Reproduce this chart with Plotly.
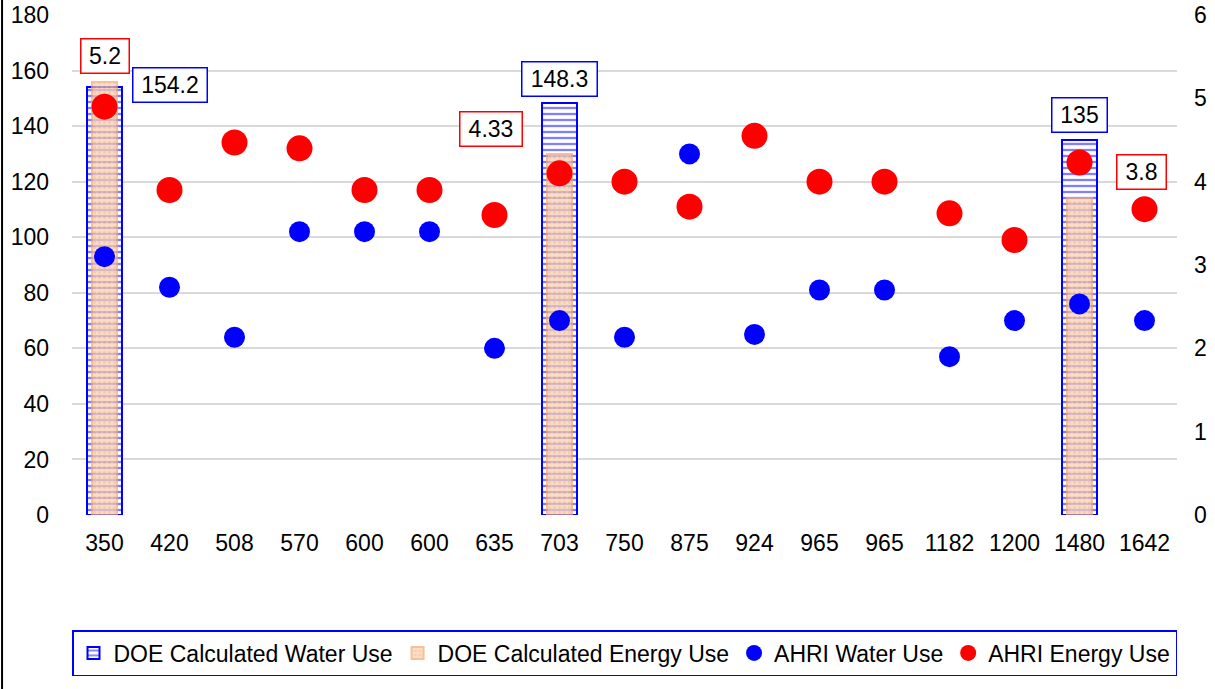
import plotly.graph_objects as go

categories = ["350", "420", "508", "570", "600", "600", "635", "703", "750",
              "875", "924", "965", "965", "1182", "1200", "1480", "1642"]
doe_water = [154.2, None, None, None, None, None, None, 148.3, None,
             None, None, None, None, None, None, 135, None]
doe_energy = [5.2, None, None, None, None, None, None, 4.33, None,
              None, None, None, None, None, None, 3.8, None]
ahri_water = [93, 82, 64, 102, 102, 102, 60, 70, 64,
              130, 65, 81, 81, 57, 70, 76, 70]
ahri_energy = [4.9, 3.9, 4.47, 4.4, 3.9, 3.9, 3.6, 4.1, 4.0,
               3.7, 4.55, 4.0, 4.0, 3.62, 3.3, 4.23, 3.67]

x = list(range(len(categories)))
FONT = "Liberation Sans, Arial, sans-serif"
FS = 23

fig = go.Figure()
fig.add_trace(go.Bar(
    x=x, y=doe_water, name="DOE Calculated Water Use", width=0.53,
    marker=dict(color="white", line=dict(color="#0000ff", width=2),
                pattern=dict(shape="-", fgcolor="#0000ff", bgcolor="white",
                             size=6, solidity=0.38)),
    yaxis="y"))
fig.add_trace(go.Bar(
    x=x, y=doe_energy, name="DOE Calculated Energy Use", width=0.37,
    opacity=0.72,
    marker=dict(color="#f8cbad", line=dict(color="#f4a870", width=2),
                pattern=dict(shape=".", fgcolor="#f0a070", bgcolor="#fad0b0",
                             size=5, solidity=0.3)),
    yaxis="y2"))
fig.add_trace(go.Scatter(
    x=x, y=ahri_water, name="AHRI Water Use", mode="markers",
    marker=dict(color="#0000ff", size=21), yaxis="y3"))
fig.add_trace(go.Scatter(
    x=x, y=ahri_energy, name="AHRI Energy Use", mode="markers",
    marker=dict(color="#ff0000", size=26), yaxis="y2"))

# value labels (offsets are styling only)
label_specs = [
    (doe_energy, "y2", "#ff0000", {0: (0, 26), 7: (-69, 25), 15: (62, 26)},
     {0: 47, 7: 61, 15: 48}),
    (doe_water, "y", "#0000ff", {0: (65, 2), 7: (0, 24), 15: (0, 25)},
     {0: 73, 7: 74, 15: 54}),
]
for series, yref, col, shifts, widths in label_specs:
    for i, v in enumerate(series):
        if v is None:
            continue
        xs, ys = shifts[i]
        fig.add_annotation(
            x=x[i], y=v, xref="x", yref=yref, text=f"{v:g}",
            showarrow=False, xshift=xs, yshift=ys, yanchor="middle",
            xanchor="center", width=widths[i], height=33,
            bordercolor=col, borderwidth=1.5, borderpad=0,
            bgcolor="white", font=dict(family=FONT, size=FS, color="black"))

# black line at left edge of the image
fig.add_shape(type="line", xref="paper", yref="paper",
              x0=-0.0633, x1=-0.0633, y0=-0.36, y1=1.04,
              line=dict(color="black", width=2))

fig.update_layout(
    width=1215, height=689,
    margin=dict(l=71.5, r=37.5, t=15, b=174, autoexpand=False),
    paper_bgcolor="white", plot_bgcolor="white",
    barmode="overlay", bargap=0,
    font=dict(family=FONT, size=FS, color="black"),
    showlegend=True,
    legend=dict(orientation="h", x=0.5, xanchor="center", y=-0.276,
                yanchor="middle", bordercolor="#0000ff", borderwidth=1.5,
                font=dict(family=FONT, size=FS, color="black"),
                itemsizing="trace", tracegroupgap=0, itemwidth=30),
    xaxis=dict(range=[-0.5, len(categories) - 0.5], tickvals=x,
               ticktext=categories, showgrid=False, zeroline=False,
               showline=False, ticks="", ticklabelstandoff=12,
               automargin=False),
    yaxis=dict(range=[0, 180], dtick=20, showgrid=True, gridcolor="#d9d9d9",
               gridwidth=1.5, zeroline=False, showline=False, ticks="",
               ticklabelstandoff=22, automargin=False),
    yaxis2=dict(range=[0, 6], dtick=1, overlaying="y", side="right",
                showgrid=False, zeroline=False, showline=False, ticks="",
                ticklabelstandoff=16, automargin=False),
    yaxis3=dict(range=[0, 180], overlaying="y", visible=False),
)

fig.write_html("out.html",
               config={"displayModeBar": False},
               post_script="document.body.style.margin='0';"
                           "document.body.style.overflow='hidden';")
